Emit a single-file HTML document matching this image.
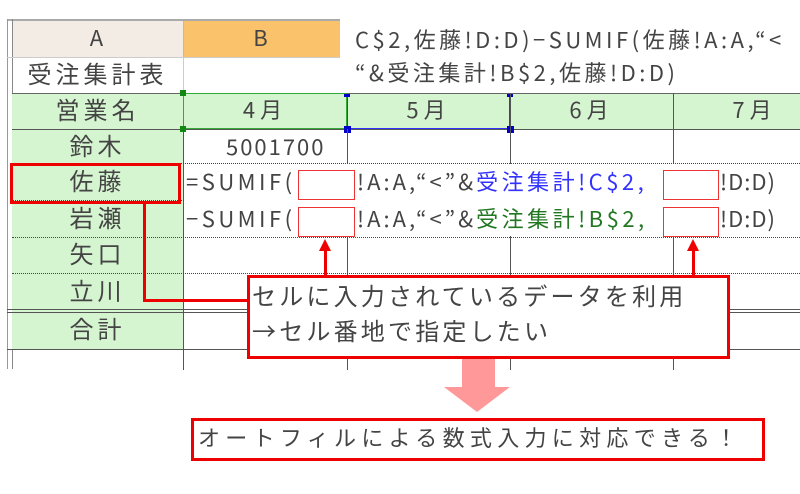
<!DOCTYPE html>
<html><head><meta charset="utf-8"><style>
*{margin:0;padding:0;box-sizing:border-box}
body{width:800px;height:494px;background:#fff;position:relative;overflow:hidden;font-family:"Noto Sans CJK JP","Liberation Sans",sans-serif;color:#444}
.a{position:absolute}
.t{position:absolute;font-size:22px;line-height:1;white-space:nowrap;letter-spacing:2px}
.c{text-align:center}
.hl{position:absolute;height:0;border-top:1px dotted #444}
.vl{position:absolute;width:1px;background:#555}
.rb{position:absolute;border:2px solid #e33;background:#fff}
</style></head><body>
<div class="a" style="left:7px;top:19px;width:333px;height:2px;background:#aaa"></div>
<div class="a" style="left:12px;top:21px;width:171px;height:36px;background:#f2ece4"></div>
<div class="a" style="left:183px;top:21px;width:157px;height:36px;background:#fbc26c"></div>
<div class="t c" style="left:12px;top:26px;width:171px">A</div>
<div class="t c" style="left:183px;top:26px;width:157px">B</div>
<div class="a" style="left:7px;top:19px;width:1px;height:350px;background:#999"></div>
<div class="vl" style="left:12px;top:19px;height:350px;background:#888"></div>
<div class="vl" style="left:183px;top:21px;height:36px;background:#bbb"></div>
<div class="t" style="left:355px;top:28px;letter-spacing:3.5px">C$2,佐藤!D:D)−SUMIF(佐藤!A:A,“&lt;</div>
<div class="t" style="left:355px;top:61px;letter-spacing:3.5px">“&amp;受注集計!B$2,佐藤!D:D)</div>
<div class="t c" style="left:12px;top:61px;width:171px;font-size:24px;letter-spacing:4px">受注集計表</div>
<div class="a" style="left:7px;top:57px;width:333px;height:1px;background:#ccc"></div>
<div class="vl" style="left:183px;top:57px;height:36px;background:#ccc"></div>
<div class="a" style="left:12px;top:93px;width:788px;height:36px;background:#d5f5d0"></div>
<div class="a" style="left:12px;top:129px;width:171px;height:221px;background:#d5f5d0"></div>
<div class="a" style="left:12px;top:93px;width:788px;height:1px;background:#666"></div>
<div class="a" style="left:12px;top:129px;width:788px;height:1px;background:#555"></div>
<div class="t c" style="left:12px;top:97px;width:171px;font-size:24px;letter-spacing:4px">営業名</div>
<div class="t c" style="left:183px;top:98px;width:164px;letter-spacing:5px">4月</div>
<div class="t c" style="left:347px;top:98px;width:163px;letter-spacing:5px">5月</div>
<div class="t c" style="left:510px;top:98px;width:163px;letter-spacing:5px">6月</div>
<div class="t c" style="left:673px;top:98px;width:163px;letter-spacing:5px">7月</div>
<div class="a" style="left:183px;top:93px;width:164px;height:36px;border:1px solid #3a3"></div>
<div class="a" style="left:347px;top:94px;width:163px;height:35px;border:1px solid #33f;border-top:none"></div>
<div class="a" style="left:180px;top:90px;width:6px;height:6px;background:#181"></div>
<div class="a" style="left:180px;top:126px;width:6px;height:6px;background:#181"></div>
<div class="a" style="left:344px;top:126px;width:7px;height:7px;background:#00c"></div>
<div class="a" style="left:507px;top:126px;width:7px;height:7px;background:#00c"></div>
<div class="a" style="left:344px;top:94px;width:6px;height:3px;background:#00c"></div>
<div class="a" style="left:507px;top:94px;width:6px;height:3px;background:#00c"></div>
<div class="vl" style="left:183px;top:129px;height:241px"></div>
<div class="vl" style="left:347px;top:129px;height:241px"></div>
<div class="vl" style="left:510px;top:93px;height:277px"></div>
<div class="vl" style="left:673px;top:93px;height:277px"></div>
<div class="t c" style="left:12px;top:133px;width:171px;font-size:24px;letter-spacing:4px">鈴木</div>
<div class="t" style="left:226px;top:135px;letter-spacing:2px">5001700</div>
<div class="hl" style="left:12px;top:163px;width:788px"></div>
<div class="hl" style="left:12px;top:200px;width:788px"></div>
<div class="hl" style="left:12px;top:237px;width:788px"></div>
<div class="hl" style="left:12px;top:273px;width:788px"></div>
<div class="a" style="left:7px;top:309px;width:793px;height:4px;border-top:1px solid #555;border-bottom:1px solid #555"></div>
<div class="a" style="left:7px;top:349px;width:793px;height:1px;background:#555"></div>
<div class="a" style="left:184px;top:164px;width:616px;height:72px;background:#fff"></div>
<div class="t c" style="left:12px;top:168px;width:171px;font-size:24px;letter-spacing:4px">佐藤</div>
<div class="t c" style="left:12px;top:205px;width:171px;font-size:24px;letter-spacing:4px">岩瀬</div>
<div class="t c" style="left:12px;top:241px;width:171px;font-size:24px;letter-spacing:4px">矢口</div>
<div class="t c" style="left:12px;top:278px;width:171px;font-size:24px;letter-spacing:4px">立川</div>
<div class="t c" style="left:12px;top:316px;width:171px;font-size:24px;letter-spacing:4px">合計</div>
<div class="t" style="left:186px;top:170px;letter-spacing:3.5px">=SUMIF(</div>
<div class="t" style="left:357px;top:170px;letter-spacing:3px">!A:A,“&lt;”&amp;<span style="color:#33f;letter-spacing:3.5px">受注集計!C$2,</span></div>
<div class="t" style="left:720px;top:170px;letter-spacing:1px">!D:D)</div>
<div class="t" style="left:186px;top:207px;letter-spacing:3.5px">−SUMIF(</div>
<div class="t" style="left:357px;top:207px;letter-spacing:3px">!A:A,“&lt;”&amp;<span style="color:#272;letter-spacing:3.5px">受注集計!B$2,</span></div>
<div class="t" style="left:720px;top:207px;letter-spacing:1px">!D:D)</div>
<div class="rb" style="left:298px;top:170px;width:57px;height:30px;border-width:1.5px"></div>
<div class="rb" style="left:663px;top:170px;width:56px;height:30px;border-width:1.5px"></div>
<div class="rb" style="left:298px;top:207px;width:57px;height:30px;border-width:1.5px"></div>
<div class="rb" style="left:663px;top:207px;width:56px;height:30px;border-width:1.5px"></div>
<div class="a" style="left:10px;top:163px;width:171px;height:41px;border:3px solid #e00"></div>
<div class="a" style="left:143px;top:204px;width:3px;height:98px;background:#e00"></div>
<div class="a" style="left:143px;top:299px;width:105px;height:3px;background:#e00"></div>
<div class="a" style="left:324px;top:250px;width:3px;height:26px;background:#e00"></div>
<div class="a" style="left:319px;top:239px;width:0;height:0;border-left:6px solid transparent;border-right:6px solid transparent;border-bottom:12px solid #e00"></div>
<div class="a" style="left:692px;top:250px;width:3px;height:26px;background:#e00"></div>
<div class="a" style="left:687px;top:239px;width:0;height:0;border-left:6px solid transparent;border-right:6px solid transparent;border-bottom:12px solid #e00"></div>
<div class="a" style="left:247px;top:275px;width:483px;height:84px;border:3px solid #e00;background:#fff"></div>
<div class="t" style="left:252px;top:283px;font-size:24px;letter-spacing:3.2px">セルに入力されているデータを利用</div>
<div class="t" style="left:252px;top:318px;font-size:24px;letter-spacing:3.2px">→セル番地で指定したい</div>
<div class="a" style="left:462px;top:359px;width:33px;height:28px;background:#f99"></div>
<div class="a" style="left:444px;top:387px;width:0;height:0;border-left:33px solid transparent;border-right:33px solid transparent;border-top:25px solid #f99"></div>
<div class="a" style="left:191px;top:418px;width:574px;height:43px;border:3px solid #e00;background:#fff"></div>
<div class="t" style="left:198px;top:426px;letter-spacing:5.3px">オートフィルによる数式入力に対応できる！</div>
</body></html>
